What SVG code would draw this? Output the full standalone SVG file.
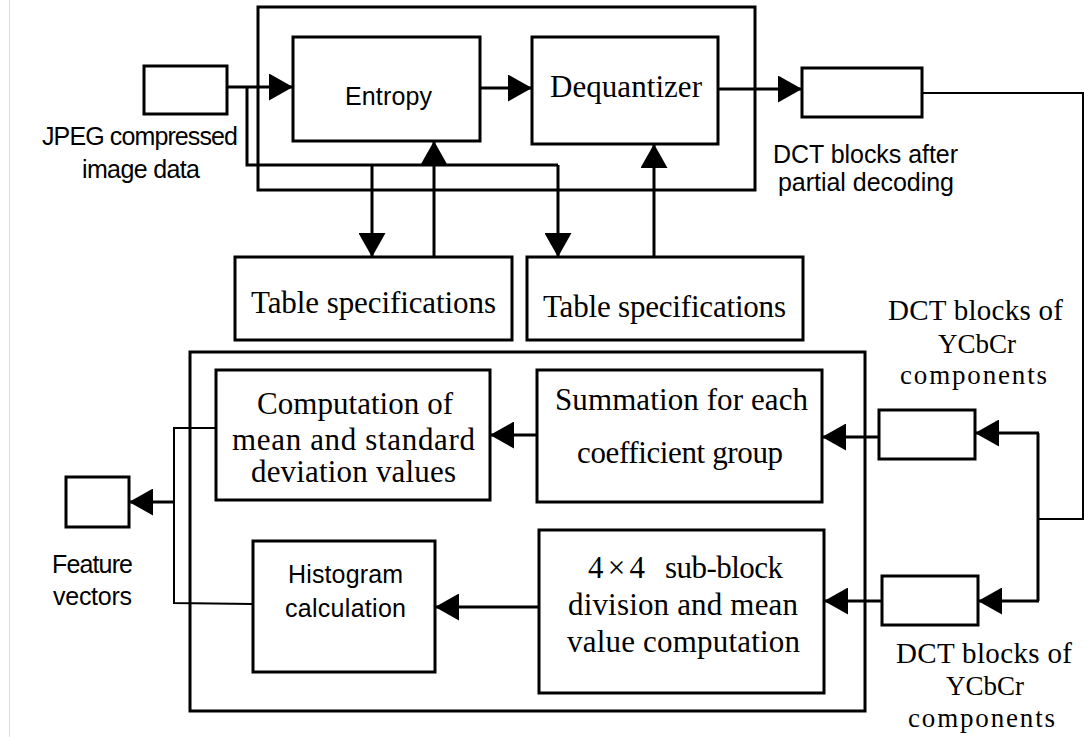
<svg xmlns="http://www.w3.org/2000/svg" width="1084" height="737" viewBox="0 0 1084 737">
<style>
.box{fill:#fff;stroke:#000;stroke-width:3}
.frame{fill:none;stroke:#000;stroke-width:3}
.ln{fill:none;stroke:#000;stroke-width:3}
.thin{fill:none;stroke:#000;stroke-width:2}
.arr{marker-end:url(#ah)}
.sans{font-family:"Liberation Sans",Arial,sans-serif;font-size:25px;fill:#000}
.serif{font-family:"Liberation Serif","Times New Roman",serif;font-size:31px;fill:#000}
.lbl{font-family:"Liberation Serif","Times New Roman",serif;font-size:29px;fill:#000}
.small{font-size:27px}
.mid{text-anchor:middle}
</style>
<defs>
<marker id="ah" markerUnits="userSpaceOnUse" markerWidth="24" markerHeight="27" viewBox="0 0 24 27" refX="24" refY="13.5" orient="auto">
<path d="M0,0 L24,13.5 L0,27 Z" fill="#000"/>
</marker>
</defs>
<rect width="1084" height="737" fill="#fff"/>
<line x1="9.5" y1="0" x2="9.5" y2="737" stroke="#dcdcdc" stroke-width="1"/>

<g id="frame-top"><rect class="frame" x="258" y="7" width="497" height="183"/></g>
<g id="frame-bottom"><rect class="frame" x="190" y="352" width="675" height="359"/></g>

<g id="connectors">
<line class="ln arr" x1="227" y1="87" x2="293" y2="87"/>
<polyline class="ln" points="247,87 247,165 558,165"/>
<line class="ln arr" x1="372" y1="165" x2="372" y2="257"/>
<line class="ln arr" x1="558" y1="165" x2="558" y2="257"/>
<line class="ln arr" x1="434" y1="257" x2="434" y2="141"/>
<line class="ln arr" x1="654" y1="257" x2="654" y2="144"/>
<line class="ln arr" x1="480" y1="88" x2="532" y2="88"/>
<line class="ln arr" x1="718" y1="89" x2="802" y2="89"/>
<polyline class="thin" points="920,93 1083,93 1083,519 1038,519"/>
<polyline class="ln" points="1038,433 1038,601"/>
<line class="ln arr" x1="1039" y1="433" x2="975" y2="433"/>
<line class="ln arr" x1="1039" y1="601" x2="978" y2="601"/>
<line class="ln arr" x1="879" y1="437" x2="822" y2="437"/>
<line class="ln arr" x1="882" y1="601" x2="824" y2="601"/>
<line class="ln arr" x1="537" y1="435" x2="490" y2="435"/>
<line class="ln arr" x1="539" y1="607" x2="435" y2="607"/>
<polyline class="thin" points="216,428 174,428 174,603 253,604"/>
<line class="ln arr" x1="174" y1="502" x2="129" y2="502"/>
</g>

<g id="input">
<rect class="box" x="144" y="66" width="83" height="48"/>
<text class="sans" x="42" y="145" textLength="196">JPEG compressed</text>
<text class="sans" x="82" y="178" textLength="118">image data</text>
</g>
<g id="entropy">
<rect class="box" x="293" y="37" width="187" height="104"/>
<text class="sans" x="345" y="105" textLength="87">Entropy</text>
</g>
<g id="dequantizer">
<rect class="box" x="532" y="37" width="186" height="107"/>
<text class="serif" x="550" y="97" textLength="152">Dequantizer</text>
</g>
<g id="output">
<rect class="box" x="802" y="68" width="120" height="49"/>
<text class="sans" x="773" y="163" textLength="185">DCT blocks after</text>
<text class="sans" x="778" y="191" textLength="176">partial decoding</text>
</g>
<g id="table1">
<rect class="box" x="235" y="257" width="277" height="83"/>
<text class="serif" x="251" y="313" textLength="245">Table specifications</text>
</g>
<g id="table2">
<rect class="box" x="527" y="257" width="276" height="83"/>
<text class="serif" x="543" y="317" textLength="243">Table specifications</text>
</g>
<g id="computation">
<rect class="box" x="216" y="370" width="274" height="130"/>
<text class="serif" x="257" y="414" textLength="196">Computation of</text>
<text class="serif" x="232" y="450" textLength="243">mean and standard</text>
<text class="serif" x="251" y="482" textLength="205">deviation values</text>
</g>
<g id="summation">
<rect class="box" x="537" y="370" width="285" height="132"/>
<text class="serif" x="555" y="410" textLength="253">Summation for each</text>
<text class="serif" x="577" y="463" textLength="206">coefficient group</text>
</g>
<g id="histogram">
<rect class="box" x="253" y="541" width="182" height="131"/>
<text class="sans" x="288" y="583" textLength="115">Histogram</text>
<text class="sans" x="285" y="617" textLength="121">calculation</text>
</g>
<g id="subblock">
<rect class="box" x="539" y="530" width="285" height="163"/>
<text class="serif" y="578"><tspan x="588" textLength="57">4×4</tspan><tspan x="665" textLength="118">sub-block</tspan></text>
<text class="serif" x="568" y="615" textLength="230">division and mean</text>
<text class="serif" x="567" y="652" textLength="233">value computation</text>
</g>
<g id="feature">
<rect class="box" x="66" y="477" width="63" height="50"/>
<text class="sans" x="52" y="573" textLength="81">Feature</text>
<text class="sans" x="53" y="605" textLength="79">vectors</text>
</g>
<g id="dct-top">
<rect class="box" x="879" y="410" width="96" height="49"/>
<text class="lbl" x="888" y="320" textLength="175">DCT blocks of</text>
<text class="lbl small mid" x="977" y="353">YCbCr</text>
<text class="lbl small" x="900" y="384" textLength="147">components</text>
</g>
<g id="dct-bottom">
<rect class="box" x="882" y="576" width="96" height="49"/>
<text class="lbl" x="896" y="663" textLength="176">DCT blocks of</text>
<text class="lbl small mid" x="985" y="695">YCbCr</text>
<text class="lbl small" x="908" y="727" textLength="147">components</text>
</g>
</svg>
